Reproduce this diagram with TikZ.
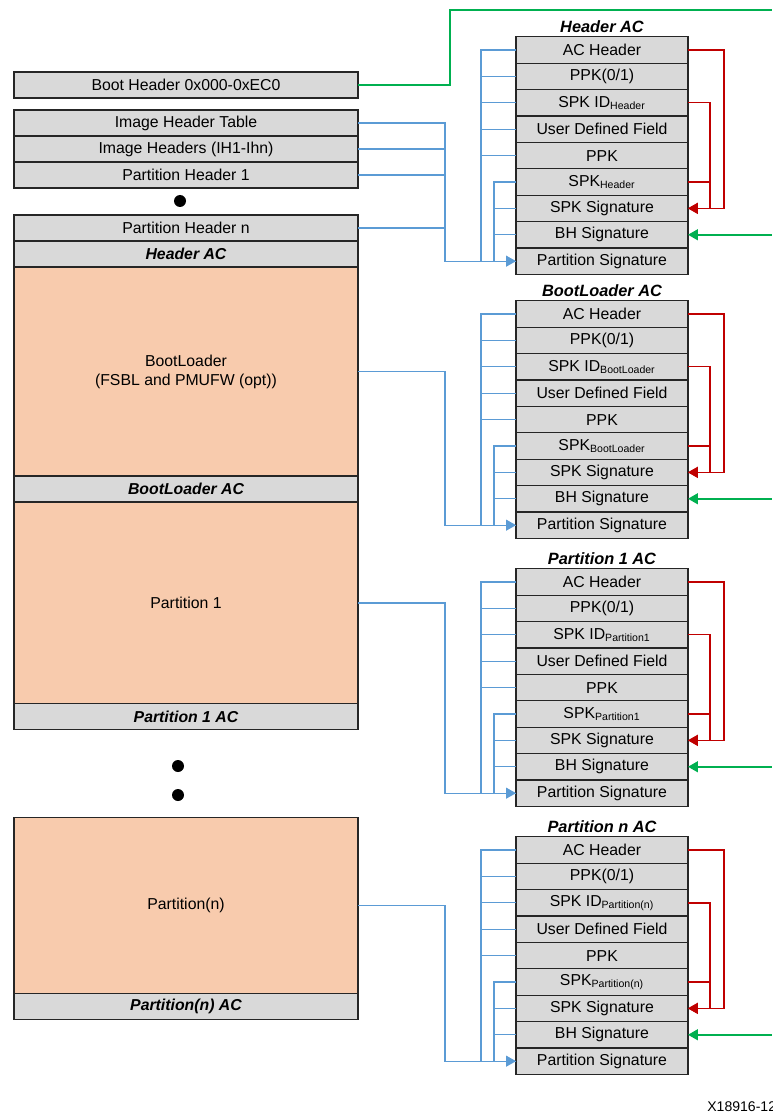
\documentclass[tikz,border=0pt]{standalone}
\usepackage{fontspec}
\setmainfont{Liberation Sans}
\usetikzlibrary{positioning,arrows.meta}

\definecolor{cellgray}{HTML}{D9D9D9}
\definecolor{peach}{HTML}{F8CBAD}
\definecolor{lineblue}{HTML}{5B9BD5}
\definecolor{linered}{HTML}{C00000}
\definecolor{linegreen}{HTML}{00B050}

\begin{document}
\begin{tikzpicture}[
  x=0.02cm, y=-0.02cm,
  font=\fontsize{9}{10.8}\selectfont,
  >={Triangle[length=2mm,width=2.2mm]},
  cell/.style={draw=black!85, line width=0.7pt, fill=cellgray, inner sep=0pt,
               outer sep=0pt, minimum width=3.44cm, minimum height=0.528cm},
  slot/.style={draw=black!85, line width=0.7pt, fill=cellgray, inner sep=0pt,
               outer sep=0pt, minimum width=6.88cm, minimum height=0.52cm},
  acslot/.style={slot, font=\fontsize{9}{10.8}\selectfont\bfseries\itshape},
  image/.style={slot, fill=peach, align=center},
  title/.style={font=\fontsize{9.3}{11}\selectfont\bfseries\itshape, inner sep=1pt},
  dot/.style={circle, fill=black, inner sep=0pt, minimum size=0.24cm},
  blu/.style={draw=lineblue, line width=0.7pt},
  rd/.style={draw=linered, line width=0.8pt},
  grn/.style={draw=linegreen, line width=0.9pt},
]
\useasboundingbox (0,0) rectangle (772,1118);

% ---------- left column: boot image layout ----------
\node[slot] (boot) at (186,85) {Boot Header 0x000-0xEC0};
\node[slot, below=0.24cm of boot] (iht) {Image Header Table};
\node[slot, below=0pt of iht] (ihs) {Image Headers (IH1-Ihn)};
\node[slot, below=0pt of ihs] (ph1) {Partition Header 1};
\node[dot] (dot1) at (180,201) {};
\node[slot, below=0.54cm of ph1] (phn) {Partition Header n};
\node[acslot, below=0pt of phn] (hac) {Header AC};
\node[image, below=0pt of hac, minimum height=4.18cm] (bl)
  {BootLoader\\(FSBL and PMUFW (opt))};
\node[acslot, below=0pt of bl] (blac) {BootLoader AC};
\node[image, below=0pt of blac, minimum height=4.04cm] (p1) {Partition 1};
\node[acslot, below=0pt of p1] (p1ac) {Partition 1 AC};
\node[dot] (dot2) at (178,766) {};
\node[dot] (dot3) at (178,795) {};
\node[image, below=1.76cm of p1ac, minimum height=3.52cm] (pn) {Partition(n)};
\node[acslot, below=0pt of pn] (pnac) {Partition(n) AC};

% ---------- right column: authentication certificates ----------
\coordinate (rim) at (772,0);
\foreach \b/\yy/\name/\sub in {h/50/Header AC/Header,
                               b/314/BootLoader AC/BootLoader,
                               p/582/Partition 1 AC/Partition1,
                               n/850/Partition n AC/Partition(n)} {
  \node[cell] (\b-1) at (602,\yy) {AC Header};
  \node[cell, below=0pt of \b-1] (\b-2) {PPK(0/1)};
  \node[cell, below=0pt of \b-2] (\b-3) {SPK ID\textsubscript{\sub}};
  \node[cell, below=0pt of \b-3] (\b-4) {User Defined Field};
  \node[cell, below=0pt of \b-4] (\b-5) {PPK};
  \node[cell, below=0pt of \b-5] (\b-6) {SPK\textsubscript{\sub}};
  \node[cell, below=0pt of \b-6] (\b-7) {SPK Signature};
  \node[cell, below=0pt of \b-7] (\b-8) {BH Signature};
  \node[cell, below=0pt of \b-8] (\b-9) {Partition Signature};
  \node[title, above=1pt of \b-1] (\b-title) {\name};

  % signed fields feed the partition signature
  \draw[blu] (\b-1.west) -- ++(-35,0) |- (\b-9.west);
  \foreach \r in {2,...,5} \draw[blu] (\b-\r.west) -- ++(-35,0);
  \draw[blu] (\b-6.west) -- ++(-22,0) |- (\b-9.west);
  \draw[blu] (\b-7.west) -- ++(-22,0);
  \draw[blu] (\b-8.west) -- ++(-22,0);

  % SPK signature inputs
  \draw[rd, ->] (\b-1.east) -- ++(36,0) |- (\b-7.east);
  \draw[rd, ->] (\b-3.east) -- ++(22,0) |- (\b-7.east);
  \draw[rd] (\b-6.east) -- ++(22,0);

  % boot header signature
  \draw[grn, <-] (\b-8.east) -- (\b-8.east -| rim);
}

% ---------- left-to-right connectors ----------
\draw[blu, ->] (iht.east) -- ++(87,0) |- (h-9.west);
\draw[blu] (ihs.east) -- ++(87,0);
\draw[blu] (ph1.east) -- ++(87,0);
\draw[blu] (phn.east) -- ++(87,0);
\draw[blu, ->] (bl.east) -- ++(87,0) |- (b-9.west);
\draw[blu, ->] (p1.east) -- ++(87,0) |- (p-9.west);
\draw[blu, ->] (pn.east) -- ++(87,0) |- (n-9.west);

\coordinate (gtop) at (772,10);
\draw[grn, line width=1.5pt] (boot.east) -- ++(92,0) |- (gtop);

\node[anchor=base west, font=\fontsize{8}{9}\selectfont, inner sep=0pt] (figid)
  at (707,1111) {X18916-120};

\end{tikzpicture}
\end{document}
